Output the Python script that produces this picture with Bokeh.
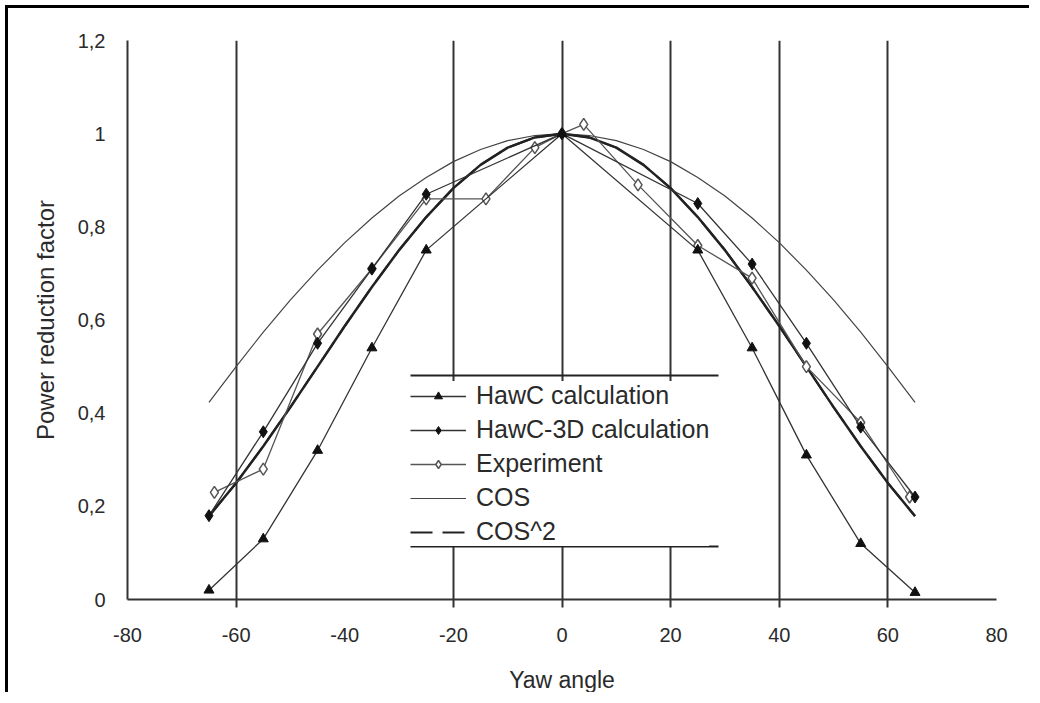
from bokeh.plotting import figure
from bokeh.models import (FixedTicker, Legend, LegendItem, BoxAnnotation, Range1d,
                          CustomJSTickFormatter)
from bokeh.embed import file_html
from bokeh.resources import INLINE

# ---- data ----
yaw_hawc = [-65, -55, -45, -35, -25, 0, 25, 35, 45, 55, 65]
prf_hawc = [0.02, 0.13, 0.32, 0.54, 0.75, 1.0, 0.75, 0.54, 0.31, 0.12, 0.015]

yaw_3d = [-65, -55, -45, -35, -25, 0, 25, 35, 45, 55, 65]
prf_3d = [0.18, 0.36, 0.55, 0.71, 0.87, 1.0, 0.85, 0.72, 0.55, 0.37, 0.22]

yaw_exp = [-64, -55, -45, -35, -25, -14, -5, 0, 4, 14, 25, 35, 45, 55, 64]
prf_exp = [0.23, 0.28, 0.57, 0.71, 0.86, 0.86, 0.97, 1.0, 1.02, 0.89, 0.76, 0.69, 0.50, 0.38, 0.22]

yaw_cos = [-65, -60, -55, -50, -45, -40, -35, -30, -25, -20, -15, -10, -5, 0,
           5, 10, 15, 20, 25, 30, 35, 40, 45, 50, 55, 60, 65]
prf_cos = [0.423, 0.500, 0.574, 0.643, 0.707, 0.766, 0.819, 0.866, 0.906, 0.940, 0.966, 0.985, 0.996, 1.0,
           0.996, 0.985, 0.966, 0.940, 0.906, 0.866, 0.819, 0.766, 0.707, 0.643, 0.574, 0.500, 0.423]
prf_cos2 = [0.179, 0.250, 0.329, 0.413, 0.500, 0.587, 0.671, 0.750, 0.821, 0.883, 0.933, 0.970, 0.992, 1.0,
            0.992, 0.970, 0.933, 0.883, 0.821, 0.750, 0.671, 0.587, 0.500, 0.413, 0.329, 0.250, 0.179]

x_ticks = [-80, -60, -40, -20, 0, 20, 40, 60, 80]
grid_ticks = [-60, -20, 0, 20, 40, 60]
y_ticks = [0, 0.2, 0.4, 0.6, 0.8, 1.0, 1.2]

FONT = "Liberation Sans"
INK = "#2a2a2a"

p = figure(width=1024, height=687, x_range=Range1d(-80, 80), y_range=Range1d(0, 1.2),
           output_backend="svg", toolbar_location=None,
           min_border_left=119, min_border_top=32, min_border_right=36, min_border_bottom=94)
p.styles = {"border-top": "3px solid black", "border-left": "3px solid black",
            "margin-top": "5px", "margin-left": "5px"}
p.outline_line_color = None
p.background_fill_color = "white"

# grid
p.xgrid.ticker = FixedTicker(ticks=grid_ticks)
p.xgrid.grid_line_color = "#333333"
p.xgrid.grid_line_width = 2
p.ygrid.grid_line_color = None

# x axis
xa = p.xaxis[0]
xa.ticker = FixedTicker(ticks=x_ticks, minor_ticks=grid_ticks)
xa.formatter = CustomJSTickFormatter(code="return String(Math.round(tick));")
xa.major_tick_out = 0
xa.major_tick_in = 0
xa.minor_tick_out = 8
xa.minor_tick_in = 0
xa.minor_tick_line_width = 2
xa.minor_tick_line_color = "#333333"
xa.axis_line_width = 2
xa.axis_line_color = "#333333"
xa.major_label_text_font = FONT
xa.major_label_text_font_size = "20px"
xa.major_label_text_color = INK
xa.major_label_standoff = 20
xa.axis_label = "Yaw angle"
xa.axis_label_text_font = FONT
xa.axis_label_text_font_size = "23px"
xa.axis_label_text_font_style = "normal"
xa.axis_label_text_color = INK
xa.axis_label_standoff = 22

# y axis
ya = p.yaxis[0]
ya.ticker = FixedTicker(ticks=y_ticks, minor_ticks=[])
ya.formatter = CustomJSTickFormatter(code="return String(Math.round(tick*10)/10).replace('.', ',');")
ya.major_tick_out = 0
ya.major_tick_in = 0
ya.minor_tick_out = 0
ya.minor_tick_in = 0
ya.axis_line_width = 2
ya.axis_line_color = "#333333"
ya.major_label_text_font = FONT
ya.major_label_text_font_size = "20px"
ya.major_label_text_color = INK
ya.major_label_standoff = 22
ya.axis_label = "Power reduction factor"
ya.axis_label_text_font = FONT
ya.axis_label_text_font_size = "24px"
ya.axis_label_text_font_style = "normal"
ya.axis_label_text_color = INK
ya.axis_label_standoff = 16

# curves
r_cos = p.line(yaw_cos, prf_cos, line_color="#444444", line_width=1.2)
r_cos2_key = p.line(yaw_cos, prf_cos2, line_color="#222222", line_width=2, line_dash="22 10")
r_cos2 = p.line(yaw_cos, prf_cos2, line_color="#222222", line_width=2.5)

r_exp_l = p.line(yaw_exp, prf_exp, line_color="#555555", line_width=1.3)
r_exp_m = p.scatter(yaw_exp, prf_exp, marker="diamond", size=12, fill_color="white",
                    line_color="#555555", line_width=1.5)

r_3d_l = p.line(yaw_3d, prf_3d, line_color="#333333", line_width=1.3)
r_3d_m = p.scatter(yaw_3d, prf_3d, marker="diamond", size=12, fill_color="#111111",
                   line_color="#111111")

r_h_l = p.line(yaw_hawc, prf_hawc, line_color="#333333", line_width=1.3)
r_h_m = p.scatter(yaw_hawc, prf_hawc, marker="triangle", size=10, fill_color="#111111",
                  line_color="#111111")

legend = Legend(items=[
    LegendItem(label="HawC calculation", renderers=[r_h_l, r_h_m]),
    LegendItem(label="HawC-3D calculation", renderers=[r_3d_l, r_3d_m]),
    LegendItem(label="Experiment", renderers=[r_exp_l, r_exp_m]),
    LegendItem(label="COS", renderers=[r_cos]),
    LegendItem(label="COS^2", renderers=[r_cos2_key]),
], location=(283, 53))
legend.border_line_color = None
legend.background_fill_color = "white"
legend.background_fill_alpha = 1.0
legend.label_text_font = FONT
legend.label_text_font_size = "25px"
legend.label_text_color = INK
legend.glyph_width = 56
legend.glyph_height = 20
legend.label_height = 20
legend.label_standoff = 10
legend.spacing = 5
legend.padding = 4
legend.margin = 0
p.add_layout(legend, "center")

# legend top / bottom rules
for b, t in [(223, 225), (52, 54)]:
    p.add_layout(BoxAnnotation(left=283, right=591, bottom=b, top=t,
                               left_units="screen", right_units="screen",
                               bottom_units="screen", top_units="screen",
                               fill_color="#222222", fill_alpha=1.0, line_color=None,
                               level="overlay"))

open("out.html", "w").write(file_html(p, INLINE))
